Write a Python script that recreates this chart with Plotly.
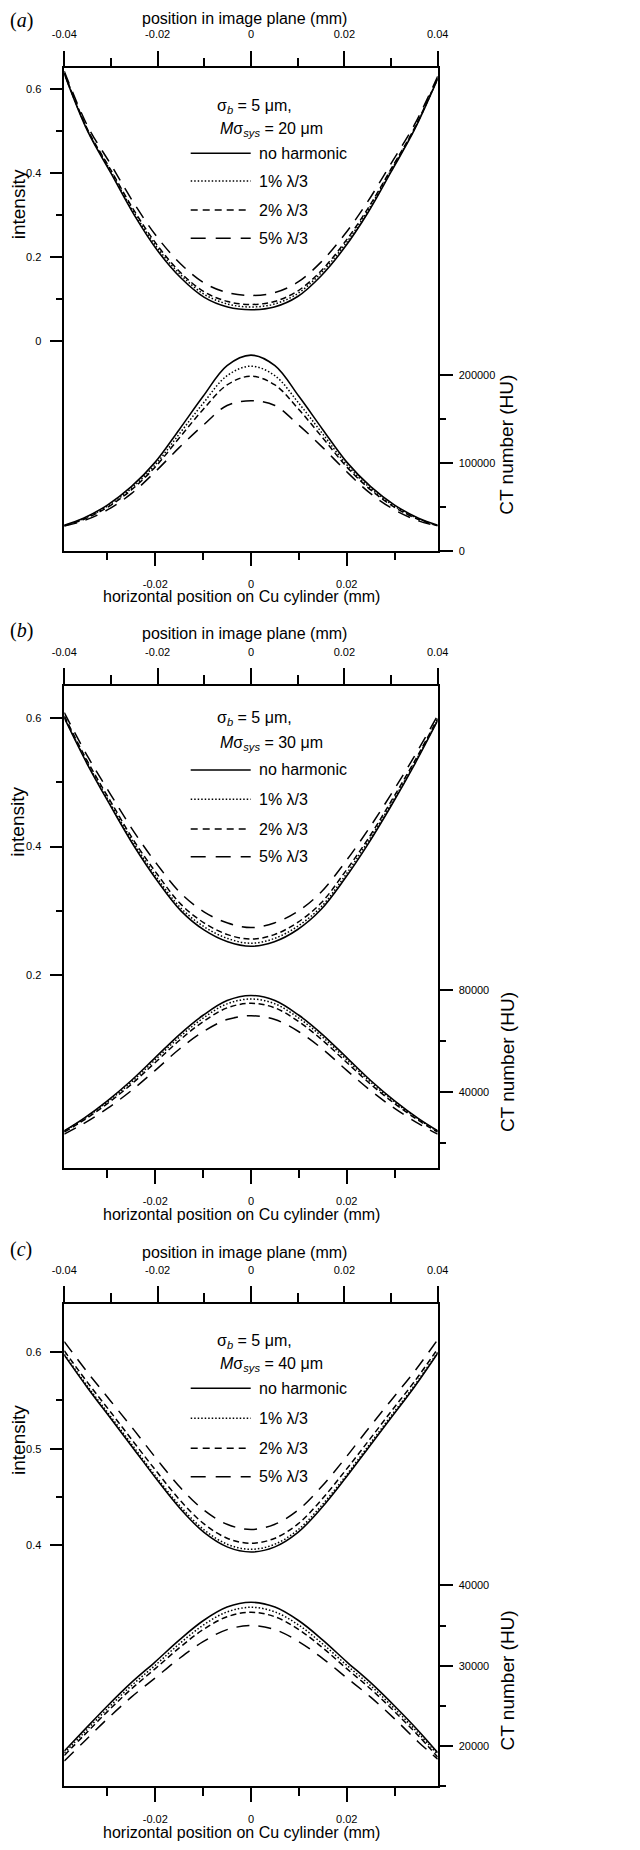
import plotly.graph_objects as go

# ---------------- data ----------------
# position in image plane (mm) – top axis, used by intensity curves
x_img = [-0.04, -0.035, -0.03, -0.025, -0.02, -0.015, -0.01, -0.005, 0.0,
         0.005, 0.01, 0.015, 0.02, 0.025, 0.03, 0.035, 0.04]
# horizontal position on Cu cylinder (mm) – bottom axis, used by CT curves
x_cyl = [-0.039, -0.035, -0.03, -0.025, -0.02, -0.015, -0.01, -0.005, 0.0,
         0.005, 0.01, 0.015, 0.02, 0.025, 0.03, 0.035, 0.039]

series_names = ["no harmonic", "1% \u03bb/3", "2% \u03bb/3", "5% \u03bb/3"]
panel_labels = ["a", "b", "c"]
msys_values = [20, 30, 40]

# panel (a)  M sigma_sys = 20 um
a_int_none = [0.637, 0.500, 0.400, 0.300, 0.215, 0.150, 0.104, 0.081, 0.0745, 0.081, 0.106, 0.155, 0.222, 0.305, 0.403, 0.503, 0.625]
a_int_1 = [0.638, 0.502, 0.404, 0.305, 0.221, 0.157, 0.111, 0.088, 0.081, 0.088, 0.113, 0.162, 0.228, 0.310, 0.407, 0.505, 0.626]
a_int_2 = [0.639, 0.504, 0.407, 0.310, 0.227, 0.162, 0.117, 0.094, 0.087, 0.094, 0.119, 0.167, 0.234, 0.315, 0.410, 0.507, 0.627]
a_int_5 = [0.643, 0.512, 0.420, 0.327, 0.246, 0.183, 0.138, 0.115, 0.1085, 0.115, 0.140, 0.188, 0.253, 0.332, 0.423, 0.515, 0.631]
a_ct_none = [29000, 37000, 52000, 73000, 101000, 138000, 176000, 211000, 223000, 211000, 176000, 138000, 101000, 73000, 52000, 37000, 29000]
a_ct_1 = [28700, 36300, 50700, 71000, 98000, 133000, 168000, 199500, 210400, 199500, 168000, 133000, 98000, 71000, 50700, 36300, 28700]
a_ct_2 = [28500, 35600, 49500, 69300, 95500, 128500, 161000, 189000, 199000, 189000, 161000, 128500, 95500, 69300, 49500, 35600, 28500]
a_ct_5 = [28000, 34000, 46500, 65000, 90000, 117500, 143000, 165500, 171000, 165500, 143000, 117500, 90000, 65000, 46500, 34000, 28000]

# panel (b)  M sigma_sys = 30 um
b_int_none = [0.600, 0.527, 0.462, 0.400, 0.346, 0.300, 0.270, 0.252, 0.245, 0.252, 0.271, 0.302, 0.349, 0.403, 0.463, 0.527, 0.596]
b_int_1 = [0.601, 0.529, 0.465, 0.404, 0.350, 0.304, 0.275, 0.257, 0.2496, 0.257, 0.276, 0.306, 0.353, 0.407, 0.466, 0.529, 0.597]
b_int_2 = [0.603, 0.532, 0.469, 0.408, 0.356, 0.310, 0.281, 0.263, 0.256, 0.263, 0.282, 0.312, 0.359, 0.411, 0.470, 0.532, 0.599]
b_int_5 = [0.608, 0.540, 0.480, 0.422, 0.371, 0.327, 0.298, 0.281, 0.274, 0.281, 0.299, 0.329, 0.374, 0.425, 0.481, 0.540, 0.604]
b_ct_none = [24700, 29500, 36500, 44500, 53500, 62500, 70200, 76000, 78000, 76000, 70200, 62500, 53500, 44500, 36500, 29500, 24700]
b_ct_1 = [24500, 29200, 36050, 43850, 52650, 61500, 69050, 74700, 76600, 74700, 69050, 61500, 52650, 43850, 36050, 29200, 24500]
b_ct_2 = [24200, 28750, 35400, 43000, 51600, 60250, 67650, 73100, 74900, 73100, 67650, 60250, 51600, 43000, 35400, 28750, 24200]
b_ct_5 = [23400, 27500, 33500, 40500, 48500, 56800, 63700, 68500, 70000, 68500, 63700, 56800, 48500, 40500, 33500, 27500, 23400]

# panel (c)  M sigma_sys = 40 um
c_int_none = [0.597, 0.563, 0.531, 0.499, 0.467, 0.437, 0.413, 0.398, 0.393, 0.398, 0.413, 0.438, 0.468, 0.500, 0.532, 0.564, 0.599]
c_int_1 = [0.598, 0.5645, 0.533, 0.501, 0.469, 0.4395, 0.4157, 0.4008, 0.3958, 0.4008, 0.4157, 0.4405, 0.470, 0.502, 0.534, 0.5655, 0.600]
c_int_2 = [0.6015, 0.5685, 0.5375, 0.506, 0.475, 0.4455, 0.4218, 0.407, 0.402, 0.407, 0.4218, 0.4465, 0.476, 0.507, 0.5385, 0.5695, 0.6035]
c_int_5 = [0.611, 0.579, 0.549, 0.519, 0.488, 0.459, 0.436, 0.4214, 0.4164, 0.4214, 0.436, 0.460, 0.489, 0.520, 0.550, 0.580, 0.613]
c_ct_none = [19400, 21900, 25000, 27900, 30500, 33200, 35600, 37300, 37900, 37300, 35600, 33200, 30500, 27900, 25000, 21900, 19200]
c_ct_1 = [19150, 21600, 24660, 27520, 30070, 32710, 35050, 36700, 37280, 36700, 35050, 32710, 30070, 27520, 24660, 21600, 18950]
c_ct_2 = [18850, 21280, 24300, 27120, 29640, 32220, 34500, 36100, 36660, 36100, 34500, 32220, 29640, 27120, 24300, 21280, 18650]
c_ct_5 = [18150, 20500, 23400, 26100, 28500, 30900, 33000, 34500, 35000, 34500, 33000, 30900, 28500, 26100, 23400, 20500, 18400]

# axis ranges / ticks per panel
left_ranges = [[-0.5, 0.65], [-0.1, 0.65], [0.15, 0.65]]
left_ticks = [[0, 0.2, 0.4, 0.6], [0.2, 0.4, 0.6], [0.4, 0.5, 0.6]]
left_minor = [[0.1, 0.3, 0.5], [0.3, 0.5], [0.45, 0.55]]
right_ranges = [[0, 550000], [10000, 200000], [15000, 75000]]
right_ticks = [[0, 100000, 200000], [40000, 80000], [20000, 30000, 40000]]
right_minor = [[50000, 150000], [20000, 60000], [15000, 25000, 35000]]
top_ticks = [-0.04, -0.02, 0, 0.02, 0.04]
top_minor = [-0.03, -0.01, 0.01, 0.03]
bottom_ticks = [-0.02, 0, 0.02]
bottom_minor = [-0.03, -0.01, 0.01, 0.03]

intensity = [[a_int_none, a_int_1, a_int_2, a_int_5],
             [b_int_none, b_int_1, b_int_2, b_int_5],
             [c_int_none, c_int_1, c_int_2, c_int_5]]
ctnum = [[a_ct_none, a_ct_1, a_ct_2, a_ct_5],
         [b_ct_none, b_ct_1, b_ct_2, b_ct_5],
         [c_ct_none, c_ct_1, c_ct_2, c_ct_5]]

# ---------------- styling / layout ----------------
# the page body keeps an 8 px margin, so the figure is shrunk by it and
# every page position is shifted back by OFF.
OFF = 8
W, H = 640 - OFF, 1850 - OFF
FONT = "Liberation Sans, Arial, sans-serif"
dashes = ["solid", "1.5px,2px", "6px,3.5px", "13px,9px"]
leg_dashes = ["solid", "1.5px,2px", "7px,5px", "15px,10px"]
widths = [1.6, 1.5, 1.5, 1.5]

PLOT_L, PLOT_R = 64.3, 437.7
PLOT_H = 482.4
tops = [68.3, 685.7, 1304.0]
sigma_off = [38, 32.5, 37.7]
msys_off = [60.7, 58.3, 60]
row_offs = [[85, 112.7, 141.7, 170], [84.3, 113.6, 143.3, 171], [84.3, 114.3, 144.3, 172.7]]


def fx(px):
    return (px - OFF) / W


def fy(py):
    return 1 - (py - OFF) / H


def fmt(v):
    return "%g" % v


fig = go.Figure()
layout = dict(template="none", width=W, height=H, autosize=False,
              margin=dict(l=0, r=0, t=0, b=0, pad=0),
              paper_bgcolor="white", plot_bgcolor="white", showlegend=False,
              font=dict(family=FONT, color="black"))
annotations = []
shapes = []

tickfont = dict(family=FONT, size=11, color="black")
common = dict(showgrid=False, zeroline=False, showline=True, linecolor="black",
              linewidth=1.5, ticks="outside", tickwidth=1.5, tickcolor="black",
              tickfont=tickfont, tickmode="array", automargin=False, fixedrange=True)


def minor(vals, ln):
    return dict(tickmode="array", tickvals=vals, ticklen=ln, tickwidth=1.5,
                tickcolor="black", ticks="outside", showgrid=False)


for p in range(3):
    top = tops[p]
    bot = top + PLOT_H
    xb = 2 * p + 1   # bottom x axis (CT, base)
    xt = 2 * p + 2   # top x axis (intensity, overlay)
    yb = 2 * p + 1   # right y axis (CT, base)
    yo = 2 * p + 2   # left y axis (intensity, overlay)
    nb = "" if xb == 1 else str(xb)
    nt = str(xt)
    mb = "" if yb == 1 else str(yb)
    mo = str(yo)
    layout["xaxis" + nb] = dict(common, domain=[fx(PLOT_L), fx(PLOT_R)], anchor="y" + mb,
                                side="bottom", range=[-0.039, 0.039],
                                tickvals=bottom_ticks, ticktext=[fmt(v) for v in bottom_ticks],
                                ticklen=14, ticklabelstandoff=8, minor=minor(bottom_minor, 8))
    layout["xaxis" + nt] = dict(common, overlaying="x" + nb, anchor="y" + mb, side="top",
                                range=[-0.04, 0.04],
                                tickvals=top_ticks, ticktext=[fmt(v) for v in top_ticks],
                                ticklen=16, ticklabelstandoff=8, minor=minor(top_minor, 9))
    layout["yaxis" + mb] = dict(common, domain=[fy(bot), fy(top)], anchor="x" + nb,
                                side="right", range=right_ranges[p],
                                tickvals=right_ticks[p], ticktext=[fmt(v) for v in right_ticks[p]],
                                ticklen=14, ticklabelstandoff=3, minor=minor(right_minor[p], 7))
    layout["yaxis" + mo] = dict(common, overlaying="y" + mb, anchor="x" + nb, side="left",
                                range=left_ranges[p],
                                tickvals=left_ticks[p], ticktext=[fmt(v) for v in left_ticks[p]],
                                ticklen=13, ticklabelstandoff=6, minor=minor(left_minor[p], 7))

    for s in range(4):
        fig.add_trace(go.Scatter(x=x_cyl, y=ctnum[p][s], xaxis="x" + nb, yaxis="y" + mb,
                                 mode="lines", name=series_names[s], hoverinfo="skip",
                                 line=dict(color="black", width=widths[s], dash=dashes[s],
                                           shape="spline", smoothing=1.0)))
    for s in range(4):
        fig.add_trace(go.Scatter(x=x_img, y=intensity[p][s], xaxis="x" + nt, yaxis="y" + mo,
                                 mode="lines", name=series_names[s], hoverinfo="skip",
                                 line=dict(color="black", width=widths[s], dash=dashes[s],
                                           shape="spline", smoothing=1.0)))

    # panel letter (kept inside the drawing area)
    annotations.append(dict(text="(<i>%s</i>)" % panel_labels[p], x=fx(OFF), y=fy(max(top - 55, 20)),
                            xref="paper", yref="paper", xanchor="left", yanchor="middle",
                            showarrow=False, font=dict(family="Liberation Serif, Times New Roman, serif",
                                                       size=20, color="black")))
    # axis titles
    annotations.append(dict(text="position in image plane (mm)", x=fx(244), y=fy(max(top - 52, 18)),
                            xref="paper", yref="paper", xanchor="center", yanchor="middle",
                            showarrow=False, font=dict(family=FONT, size=16, color="black")))
    annotations.append(dict(text="horizontal position on Cu cylinder (mm)", x=fx(241), y=fy(bot + 46),
                            xref="paper", yref="paper", xanchor="center", yanchor="middle",
                            showarrow=False, font=dict(family=FONT, size=16, color="black")))
    annotations.append(dict(text="intensity", x=fx(18), y=fy(top + 136), textangle=-90,
                            xref="paper", yref="paper", xanchor="center", yanchor="middle",
                            showarrow=False, font=dict(family=FONT, size=19, color="black")))
    annotations.append(dict(text="CT number (HU)", x=fx(507), y=fy(bot - 106), textangle=-90,
                            xref="paper", yref="paper", xanchor="center", yanchor="middle",
                            showarrow=False, font=dict(family=FONT, size=19, color="black")))
    # in-plot legend block
    annotations.append(dict(text="\u03c3<sub><i>b</i></sub> = 5 \u03bcm,", x=fx(215), y=fy(top + sigma_off[p]),
                            xref="paper", yref="paper", xanchor="left", yanchor="middle",
                            showarrow=False, font=dict(family=FONT, size=16, color="black")))
    annotations.append(dict(text="<i>M</i>\u03c3<sub><i>sys</i></sub> = %d \u03bcm" % msys_values[p],
                            x=fx(218), y=fy(top + msys_off[p]),
                            xref="paper", yref="paper", xanchor="left", yanchor="middle",
                            showarrow=False, font=dict(family=FONT, size=16, color="black")))
    for s in range(4):
        ry = top + row_offs[p][s]
        shapes.append(dict(type="line", xref="paper", yref="paper",
                           x0=fx(190.7), x1=fx(250.7), y0=fy(ry), y1=fy(ry),
                           line=dict(color="black", width=widths[s], dash=leg_dashes[s])))
        annotations.append(dict(text=series_names[s], x=fx(256.7), y=fy(ry),
                                xref="paper", yref="paper", xanchor="left", yanchor="middle",
                                showarrow=False, font=dict(family=FONT, size=16, color="black")))

layout["annotations"] = annotations
layout["shapes"] = shapes
fig.update_layout(**layout)
fig.write_html("out.html")
